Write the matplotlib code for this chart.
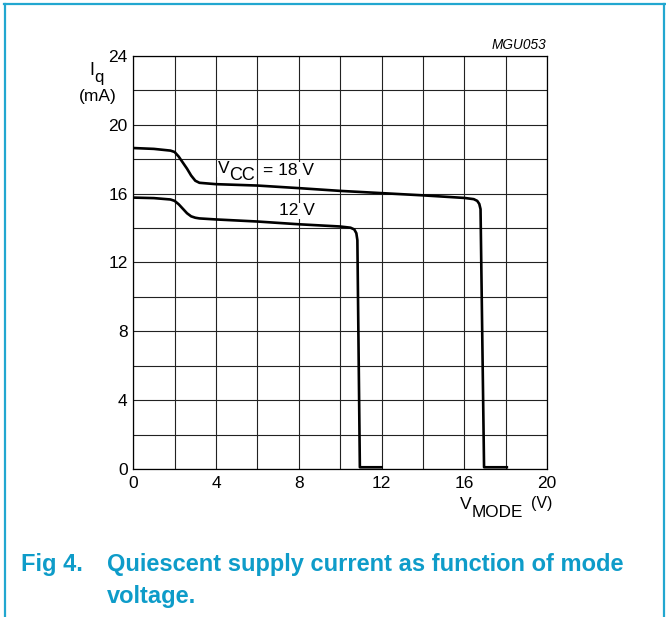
import matplotlib
matplotlib.use("Agg")
from matplotlib import pyplot as plt
from matplotlib.lines import Line2D

plt.rcParams['font.family'] = ['Liberation Sans', 'DejaVu Sans']

# Iq vs Vmode, Vcc = 18 V
vcc18_x = [0, 1.0, 1.8, 2.0, 2.2, 2.4, 2.6, 2.8, 3.0, 3.2, 4, 6, 8, 10, 12, 14, 16,
           16.45, 16.62, 16.72, 16.78, 16.95, 18.05]
vcc18_y = [18.65, 18.6, 18.5, 18.42, 18.15, 17.8, 17.45, 17.05, 16.75, 16.63, 16.55,
           16.47, 16.32, 16.16, 16.03, 15.9, 15.75, 15.68, 15.58, 15.4, 15.1, 0.1, 0.1]

# Vcc = 12 V
vcc12_x = [0, 1.0, 1.8, 2.0, 2.2, 2.4, 2.6, 2.8, 3.0, 3.2, 4, 6, 8, 10, 10.5,
           10.68, 10.78, 10.83, 10.95, 12.0]
vcc12_y = [15.77, 15.74, 15.66, 15.58, 15.38, 15.12, 14.86, 14.68, 14.6, 14.56, 14.5,
           14.38, 14.22, 14.09, 14.02, 13.92, 13.7, 13.3, 0.1, 0.1]

x_ticks = [0, 4, 8, 12, 16, 20]
y_ticks = [0, 4, 8, 12, 16, 20, 24]

FS = 12.5

fig = plt.figure(figsize=(6.66, 6.17), dpi=100)
ax = fig.add_axes([0.2, 0.2399, 0.6216, 0.6694])

ax.plot(vcc18_x, vcc18_y, color='black', lw=1.9, zorder=3, solid_joinstyle='round')
ax.plot(vcc12_x, vcc12_y, color='black', lw=1.9, zorder=3, solid_joinstyle='round')

ax.set_xlim(0, 20)
ax.set_ylim(0, 24)
ax.set_xticks(x_ticks)
ax.set_yticks(y_ticks)
ax.set_xticks(range(0, 21, 2), minor=True)
ax.set_yticks(range(0, 25, 2), minor=True)
ax.grid(which='both', color='#222222', lw=0.8)
ax.tick_params(which='both', length=0, labelsize=FS)
ax.tick_params(axis='x', pad=5)
ax.tick_params(axis='y', pad=4)
for s in ax.spines.values():
    s.set_linewidth(0.9)

# curve labels
box = dict(facecolor='white', edgecolor='none', pad=0.5)
t = ax.text(4.1, 17.0, 'V', fontsize=FS, va='bottom', ha='left', bbox=box, zorder=2)
ax.annotate('CC', xy=(1, 0), xycoords=t, xytext=(-0.3, -5.2), textcoords='offset points',
            ha='left', va='bottom', fontsize=13, bbox=box, zorder=2)
ax.text(6.25, 16.9, '= 18 V', fontsize=FS, va='bottom', ha='left', bbox=box, zorder=2)
ax.text(7.9, 15.0, '12 V', fontsize=FS, va='center', ha='center', bbox=box, zorder=2)

# axis titles
fig.text(0.134, 0.872, 'I', fontsize=13, ha='left', va='bottom')
fig.text(0.142, 0.862, 'q', fontsize=12, ha='left', va='bottom')
fig.text(0.147, 0.843, '(mA)', fontsize=FS, ha='center', va='center')
fig.text(0.821, 0.927, 'MGU053', fontsize=9.8, style='italic', ha='right', va='center')

fig.text(0.691, 0.17, 'V', fontsize=FS, ha='left', va='bottom')
fig.text(0.708, 0.158, 'MODE', fontsize=12.3, ha='left', va='bottom')
fig.text(0.83, 0.172, '(V)', fontsize=11.5, ha='right', va='bottom')

# caption
teal = '#0e9cc9'
fig.text(0.032, 0.085, 'Fig 4.', fontsize=17, fontweight='bold', color=teal,
         ha='left', va='center')
fig.text(0.16, 0.085, 'Quiescent supply current as function of mode', fontsize=17,
         fontweight='bold', color=teal, ha='left', va='center')
fig.text(0.16, 0.033, 'voltage.', fontsize=17, fontweight='bold', color=teal,
         ha='left', va='center')

border = '#22a7d0'
fig.add_artist(Line2D([0.006, 1.0], [0.9935, 0.9935], color=border, lw=1.6))
fig.add_artist(Line2D([0.0075, 0.0075], [0, 0.9935], color=border, lw=1.6))
fig.add_artist(Line2D([0.9975, 0.9975], [0, 0.9935], color=border, lw=1.6))

fig.savefig('out.png', dpi=100)
